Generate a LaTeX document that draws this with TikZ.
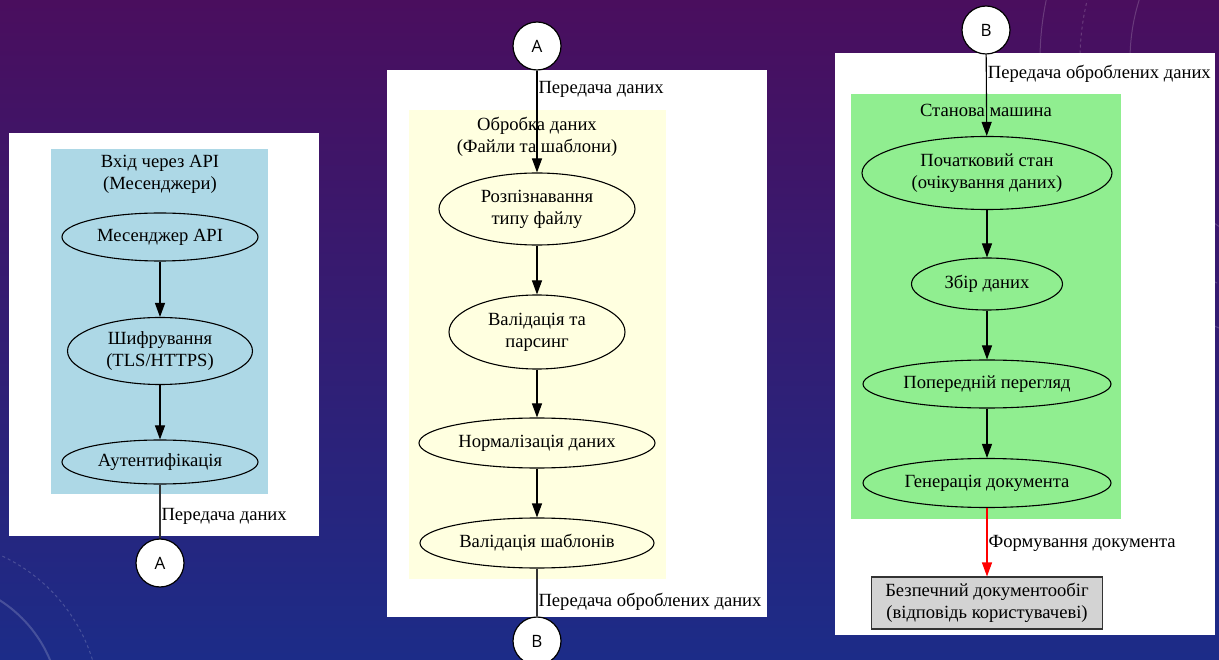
\documentclass[tikz,border=0pt]{standalone}
\usepackage{fontspec}
\setmainfont{Liberation Serif}
\newfontfamily\connfont{Open Sans}
\usetikzlibrary{shapes.geometric,arrows.meta}

\definecolor{clusterblue}{HTML}{ADD8E6}
\definecolor{clusteryellow}{HTML}{FFFFE0}
\definecolor{clustergreen}{HTML}{90EE90}
\definecolor{outgray}{HTML}{D3D3D3}
\definecolor{bgtop}{RGB}{74,14,94}
\definecolor{bgmid}{RGB}{46,26,112}
\definecolor{bgbot}{RGB}{28,44,136}

\begin{document}
\begin{tikzpicture}[x=1pt,y=-1pt,
  every node/.style={font=\fontsize{18.6}{22}\selectfont},
  state/.style={ellipse,draw=black,line width=1.1pt,inner sep=0pt,align=center},
  title/.style={align=center,inner sep=0pt},
  conn/.style={circle,draw=black,line width=1.2pt,fill=white,minimum size=48pt,
    inner sep=0pt,font=\connfont\fontsize{17}{20}\selectfont},
  outbox/.style={rectangle,draw=black!80,line width=1.1pt,fill=outgray,align=center,
    minimum width=231pt,minimum height=52pt,inner sep=0pt},
  flow/.style={draw=black,line width=1.1pt,-{Triangle[length=14pt,width=10pt]}},
  link/.style={draw=black!80,line width=1.1pt},
  redflow/.style={draw=red,line width=1.1pt,-{Triangle[length=14pt,width=10pt]}},
  elabel/.style={anchor=west,inner sep=1pt},
  deco/.style={draw=white,opacity=0.18,line width=1pt},
]
% slide background
\useasboundingbox (0,0) rectangle (1219,660);
\shade[top color=bgtop,middle color=bgmid,bottom color=bgbot] (0,0) rectangle (1219,660);

% faint ornamental arcs
\begin{scope}
\clip (0,0) rectangle (1219,660);
\draw[deco,line width=2pt] (-70,710) circle (130);
\draw[deco,dashed] (-70,710) circle (170);
\draw[deco] (1330,60) circle (200);
\draw[deco,dashed] (1330,60) circle (250);
\draw[deco] (1330,60) circle (290);
\end{scope}

% ---------- panel 1: API input ----------
\fill[white] (9,133) rectangle (319,536);
\fill[clusterblue] (51,149) rectangle (268,494);
\node[title] (t1) at (160,174) {Вхід через API\\(Месенджери)};
\node[state,minimum width=196pt,minimum height=48pt] (m1) at (160,237) {Месенджер API};
\node[state,minimum width=185pt,minimum height=67pt] (m2) at (160,351) {Шифрування\\(TLS/HTTPS)};
\node[state,minimum width=196pt,minimum height=44pt] (m3) at (160,462) {Аутентифікація};
\node[conn] (A1) at (160,563) {A};
\draw[flow] (m1) -- (m2);
\draw[flow] (m2) -- (m3);
\draw[link] (m3) -- node[elabel,pos=0.6] (l1) {Передача даних} (A1);

% ---------- panel 2: data processing ----------
\fill[white] (387,70) rectangle (767,617);
\fill[clusteryellow] (409,110) rectangle (666,579);
\node[title] (t2) at (537,137) {Обробка даних\\(Файли та шаблони)};
\node[state,minimum width=196pt,minimum height=72pt] (p1) at (537,209) {Розпізнавання\\типу файлу};
\node[state,minimum width=176pt,minimum height=74pt] (p2) at (537,332) {Валідація та\\парсинг};
\node[state,minimum width=236pt,minimum height=50pt] (p3) at (537,443) {Нормалізація даних};
\node[state,minimum width=234pt,minimum height=50pt] (p4) at (537,543) {Валідація шаблонів};
\node[conn] (A2) at (537,46) {A};
\node[conn] (B1) at (537,641) {B};
\draw[flow] (A2) -- node[elabel,pos=0.18] (l2) {Передача даних} (p1);
\draw[flow] (p1) -- (p2);
\draw[flow] (p2) -- (p3);
\draw[flow] (p3) -- (p4);
\draw[link] (p4) -- node[elabel,pos=0.69] (l3) {Передача оброблених даних} (B1);

% ---------- panel 3: state machine ----------
\fill[white] (835,53) rectangle (1215,635);
\fill[clustergreen] (851,94) rectangle (1121,519);
\node[title] (t3) at (986,110) {Станова машина};
\node[state,minimum width=250pt,minimum height=73pt] (s1) at (987,173) {Початковий стан\\(очікування даних)};
\node[state,minimum width=151pt,minimum height=52pt] (s2) at (987,284) {Збір даних};
\node[state,minimum width=248pt,minimum height=48pt] (s3) at (987,384) {Попередній перегляд};
\node[state,minimum width=248pt,minimum height=49pt] (s4) at (987,483) {Генерація документа};
\node[outbox] (out) at (987,603) {Безпечний документообіг\\(відповідь користувачеві)};
\node[conn] (B2) at (986,30) {B};
\draw[flow] (B2) -- node[elabel,pos=0.24] (l4) {Передача оброблених даних} (s1);
\draw[flow] (s1) -- (s2);
\draw[flow] (s2) -- (s3);
\draw[flow] (s3) -- (s4);
\draw[redflow] (s4) -- node[elabel,pos=0.51,text=black] (l5) {Формування документа} (out);
\end{tikzpicture}
\end{document}
